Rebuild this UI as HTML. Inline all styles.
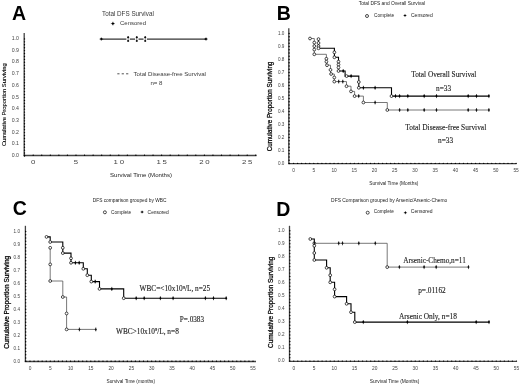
<!DOCTYPE html>
<html><head><meta charset="utf-8"><style>
html,body{margin:0;padding:0;background:#fff;width:520px;height:385px;overflow:hidden}
svg{display:block;filter:blur(0.4px)}
</style></head><body>
<svg width="520" height="385" viewBox="0 0 520 385">
<rect width="520" height="385" fill="#fff"/>
<line x1="24.20" y1="33.00" x2="24.20" y2="156.00" stroke="#444" stroke-width="1.3" />
<line x1="23.60" y1="155.50" x2="256.50" y2="155.50" stroke="#444" stroke-width="1.3" />
<path d="M23.80 156.00a0.7 0.7 0 1 0 1.4 0a0.7 0.7 0 1 0 -1.4 0M23.80 153.07a0.7 0.7 0 1 0 1.4 0a0.7 0.7 0 1 0 -1.4 0M23.80 150.15a0.7 0.7 0 1 0 1.4 0a0.7 0.7 0 1 0 -1.4 0M23.80 147.22a0.7 0.7 0 1 0 1.4 0a0.7 0.7 0 1 0 -1.4 0M23.80 144.29a0.7 0.7 0 1 0 1.4 0a0.7 0.7 0 1 0 -1.4 0M23.80 141.36a0.7 0.7 0 1 0 1.4 0a0.7 0.7 0 1 0 -1.4 0M23.80 138.44a0.7 0.7 0 1 0 1.4 0a0.7 0.7 0 1 0 -1.4 0M23.80 135.51a0.7 0.7 0 1 0 1.4 0a0.7 0.7 0 1 0 -1.4 0M23.80 132.58a0.7 0.7 0 1 0 1.4 0a0.7 0.7 0 1 0 -1.4 0M23.80 129.65a0.7 0.7 0 1 0 1.4 0a0.7 0.7 0 1 0 -1.4 0M23.80 126.73a0.7 0.7 0 1 0 1.4 0a0.7 0.7 0 1 0 -1.4 0M23.80 123.80a0.7 0.7 0 1 0 1.4 0a0.7 0.7 0 1 0 -1.4 0M23.80 120.87a0.7 0.7 0 1 0 1.4 0a0.7 0.7 0 1 0 -1.4 0M23.80 117.94a0.7 0.7 0 1 0 1.4 0a0.7 0.7 0 1 0 -1.4 0M23.80 115.02a0.7 0.7 0 1 0 1.4 0a0.7 0.7 0 1 0 -1.4 0M23.80 112.09a0.7 0.7 0 1 0 1.4 0a0.7 0.7 0 1 0 -1.4 0M23.80 109.16a0.7 0.7 0 1 0 1.4 0a0.7 0.7 0 1 0 -1.4 0M23.80 106.23a0.7 0.7 0 1 0 1.4 0a0.7 0.7 0 1 0 -1.4 0M23.80 103.30a0.7 0.7 0 1 0 1.4 0a0.7 0.7 0 1 0 -1.4 0M23.80 100.38a0.7 0.7 0 1 0 1.4 0a0.7 0.7 0 1 0 -1.4 0M23.80 97.45a0.7 0.7 0 1 0 1.4 0a0.7 0.7 0 1 0 -1.4 0M23.80 94.52a0.7 0.7 0 1 0 1.4 0a0.7 0.7 0 1 0 -1.4 0M23.80 91.59a0.7 0.7 0 1 0 1.4 0a0.7 0.7 0 1 0 -1.4 0M23.80 88.67a0.7 0.7 0 1 0 1.4 0a0.7 0.7 0 1 0 -1.4 0M23.80 85.74a0.7 0.7 0 1 0 1.4 0a0.7 0.7 0 1 0 -1.4 0M23.80 82.81a0.7 0.7 0 1 0 1.4 0a0.7 0.7 0 1 0 -1.4 0M23.80 79.88a0.7 0.7 0 1 0 1.4 0a0.7 0.7 0 1 0 -1.4 0M23.80 76.96a0.7 0.7 0 1 0 1.4 0a0.7 0.7 0 1 0 -1.4 0M23.80 74.03a0.7 0.7 0 1 0 1.4 0a0.7 0.7 0 1 0 -1.4 0M23.80 71.10a0.7 0.7 0 1 0 1.4 0a0.7 0.7 0 1 0 -1.4 0M23.80 68.17a0.7 0.7 0 1 0 1.4 0a0.7 0.7 0 1 0 -1.4 0M23.80 65.25a0.7 0.7 0 1 0 1.4 0a0.7 0.7 0 1 0 -1.4 0M23.80 62.32a0.7 0.7 0 1 0 1.4 0a0.7 0.7 0 1 0 -1.4 0M23.80 59.39a0.7 0.7 0 1 0 1.4 0a0.7 0.7 0 1 0 -1.4 0M23.80 56.46a0.7 0.7 0 1 0 1.4 0a0.7 0.7 0 1 0 -1.4 0M23.80 53.54a0.7 0.7 0 1 0 1.4 0a0.7 0.7 0 1 0 -1.4 0M23.80 50.61a0.7 0.7 0 1 0 1.4 0a0.7 0.7 0 1 0 -1.4 0M23.80 47.68a0.7 0.7 0 1 0 1.4 0a0.7 0.7 0 1 0 -1.4 0M23.80 44.75a0.7 0.7 0 1 0 1.4 0a0.7 0.7 0 1 0 -1.4 0M23.80 41.83a0.7 0.7 0 1 0 1.4 0a0.7 0.7 0 1 0 -1.4 0M23.80 38.90a0.7 0.7 0 1 0 1.4 0a0.7 0.7 0 1 0 -1.4 0M23.94 155.30a0.7 0.7 0 1 0 1.4 0a0.7 0.7 0 1 0 -1.4 0M32.50 155.30a0.7 0.7 0 1 0 1.4 0a0.7 0.7 0 1 0 -1.4 0M41.06 155.30a0.7 0.7 0 1 0 1.4 0a0.7 0.7 0 1 0 -1.4 0M49.62 155.30a0.7 0.7 0 1 0 1.4 0a0.7 0.7 0 1 0 -1.4 0M58.18 155.30a0.7 0.7 0 1 0 1.4 0a0.7 0.7 0 1 0 -1.4 0M66.74 155.30a0.7 0.7 0 1 0 1.4 0a0.7 0.7 0 1 0 -1.4 0M75.30 155.30a0.7 0.7 0 1 0 1.4 0a0.7 0.7 0 1 0 -1.4 0M83.86 155.30a0.7 0.7 0 1 0 1.4 0a0.7 0.7 0 1 0 -1.4 0M92.42 155.30a0.7 0.7 0 1 0 1.4 0a0.7 0.7 0 1 0 -1.4 0M100.98 155.30a0.7 0.7 0 1 0 1.4 0a0.7 0.7 0 1 0 -1.4 0M109.54 155.30a0.7 0.7 0 1 0 1.4 0a0.7 0.7 0 1 0 -1.4 0M118.10 155.30a0.7 0.7 0 1 0 1.4 0a0.7 0.7 0 1 0 -1.4 0M126.66 155.30a0.7 0.7 0 1 0 1.4 0a0.7 0.7 0 1 0 -1.4 0M135.22 155.30a0.7 0.7 0 1 0 1.4 0a0.7 0.7 0 1 0 -1.4 0M143.78 155.30a0.7 0.7 0 1 0 1.4 0a0.7 0.7 0 1 0 -1.4 0M152.34 155.30a0.7 0.7 0 1 0 1.4 0a0.7 0.7 0 1 0 -1.4 0M160.90 155.30a0.7 0.7 0 1 0 1.4 0a0.7 0.7 0 1 0 -1.4 0M169.46 155.30a0.7 0.7 0 1 0 1.4 0a0.7 0.7 0 1 0 -1.4 0M178.02 155.30a0.7 0.7 0 1 0 1.4 0a0.7 0.7 0 1 0 -1.4 0M186.58 155.30a0.7 0.7 0 1 0 1.4 0a0.7 0.7 0 1 0 -1.4 0M195.14 155.30a0.7 0.7 0 1 0 1.4 0a0.7 0.7 0 1 0 -1.4 0M203.70 155.30a0.7 0.7 0 1 0 1.4 0a0.7 0.7 0 1 0 -1.4 0M212.26 155.30a0.7 0.7 0 1 0 1.4 0a0.7 0.7 0 1 0 -1.4 0M220.82 155.30a0.7 0.7 0 1 0 1.4 0a0.7 0.7 0 1 0 -1.4 0M229.38 155.30a0.7 0.7 0 1 0 1.4 0a0.7 0.7 0 1 0 -1.4 0M237.94 155.30a0.7 0.7 0 1 0 1.4 0a0.7 0.7 0 1 0 -1.4 0M246.50 155.30a0.7 0.7 0 1 0 1.4 0a0.7 0.7 0 1 0 -1.4 0M255.06 155.30a0.7 0.7 0 1 0 1.4 0a0.7 0.7 0 1 0 -1.4 0" fill="#000"/>
<text x="18.90" y="157.17" font-size="5.2" font-family='"Liberation Sans", sans-serif' text-anchor="end" fill="#444" >0.0</text>
<text x="18.90" y="145.46" font-size="5.2" font-family='"Liberation Sans", sans-serif' text-anchor="end" fill="#444" >0.1</text>
<text x="18.90" y="133.75" font-size="5.2" font-family='"Liberation Sans", sans-serif' text-anchor="end" fill="#444" >0.2</text>
<text x="18.90" y="122.04" font-size="5.2" font-family='"Liberation Sans", sans-serif' text-anchor="end" fill="#444" >0.3</text>
<text x="18.90" y="110.33" font-size="5.2" font-family='"Liberation Sans", sans-serif' text-anchor="end" fill="#444" >0.4</text>
<text x="18.90" y="98.62" font-size="5.2" font-family='"Liberation Sans", sans-serif' text-anchor="end" fill="#444" >0.5</text>
<text x="18.90" y="86.91" font-size="5.2" font-family='"Liberation Sans", sans-serif' text-anchor="end" fill="#444" >0.6</text>
<text x="18.90" y="75.20" font-size="5.2" font-family='"Liberation Sans", sans-serif' text-anchor="end" fill="#444" >0.7</text>
<text x="18.90" y="63.49" font-size="5.2" font-family='"Liberation Sans", sans-serif' text-anchor="end" fill="#444" >0.8</text>
<text x="18.90" y="51.78" font-size="5.2" font-family='"Liberation Sans", sans-serif' text-anchor="end" fill="#444" >0.9</text>
<text x="18.90" y="40.07" font-size="5.2" font-family='"Liberation Sans", sans-serif' text-anchor="end" fill="#444" >1.0</text>
<text transform="translate(33.20,163.90) scale(1.4,1)" x="0.60" y="0" font-size="5.6" font-family='"Liberation Sans", sans-serif' text-anchor="middle" fill="#444" letter-spacing="1.2">0</text>
<text transform="translate(76.00,163.90) scale(1.4,1)" x="0.60" y="0" font-size="5.6" font-family='"Liberation Sans", sans-serif' text-anchor="middle" fill="#444" letter-spacing="1.2">5</text>
<text transform="translate(118.80,163.90) scale(1.4,1)" x="0.60" y="0" font-size="5.6" font-family='"Liberation Sans", sans-serif' text-anchor="middle" fill="#444" letter-spacing="1.2">10</text>
<text transform="translate(161.60,163.90) scale(1.4,1)" x="0.60" y="0" font-size="5.6" font-family='"Liberation Sans", sans-serif' text-anchor="middle" fill="#444" letter-spacing="1.2">15</text>
<text transform="translate(204.40,163.90) scale(1.4,1)" x="0.60" y="0" font-size="5.6" font-family='"Liberation Sans", sans-serif' text-anchor="middle" fill="#444" letter-spacing="1.2">20</text>
<text transform="translate(247.20,163.90) scale(1.4,1)" x="0.60" y="0" font-size="5.6" font-family='"Liberation Sans", sans-serif' text-anchor="middle" fill="#444" letter-spacing="1.2">25</text>
<line x1="288.80" y1="28.30" x2="288.80" y2="164.10" stroke="#444" stroke-width="1.3" />
<line x1="288.20" y1="163.60" x2="516.50" y2="163.60" stroke="#444" stroke-width="1.3" />
<path d="M288.40 163.50a0.7 0.7 0 1 0 1.4 0a0.7 0.7 0 1 0 -1.4 0M288.40 160.25a0.7 0.7 0 1 0 1.4 0a0.7 0.7 0 1 0 -1.4 0M288.40 157.00a0.7 0.7 0 1 0 1.4 0a0.7 0.7 0 1 0 -1.4 0M288.40 153.75a0.7 0.7 0 1 0 1.4 0a0.7 0.7 0 1 0 -1.4 0M288.40 150.50a0.7 0.7 0 1 0 1.4 0a0.7 0.7 0 1 0 -1.4 0M288.40 147.25a0.7 0.7 0 1 0 1.4 0a0.7 0.7 0 1 0 -1.4 0M288.40 144.00a0.7 0.7 0 1 0 1.4 0a0.7 0.7 0 1 0 -1.4 0M288.40 140.75a0.7 0.7 0 1 0 1.4 0a0.7 0.7 0 1 0 -1.4 0M288.40 137.50a0.7 0.7 0 1 0 1.4 0a0.7 0.7 0 1 0 -1.4 0M288.40 134.25a0.7 0.7 0 1 0 1.4 0a0.7 0.7 0 1 0 -1.4 0M288.40 131.00a0.7 0.7 0 1 0 1.4 0a0.7 0.7 0 1 0 -1.4 0M288.40 127.75a0.7 0.7 0 1 0 1.4 0a0.7 0.7 0 1 0 -1.4 0M288.40 124.50a0.7 0.7 0 1 0 1.4 0a0.7 0.7 0 1 0 -1.4 0M288.40 121.25a0.7 0.7 0 1 0 1.4 0a0.7 0.7 0 1 0 -1.4 0M288.40 118.00a0.7 0.7 0 1 0 1.4 0a0.7 0.7 0 1 0 -1.4 0M288.40 114.75a0.7 0.7 0 1 0 1.4 0a0.7 0.7 0 1 0 -1.4 0M288.40 111.50a0.7 0.7 0 1 0 1.4 0a0.7 0.7 0 1 0 -1.4 0M288.40 108.25a0.7 0.7 0 1 0 1.4 0a0.7 0.7 0 1 0 -1.4 0M288.40 105.00a0.7 0.7 0 1 0 1.4 0a0.7 0.7 0 1 0 -1.4 0M288.40 101.75a0.7 0.7 0 1 0 1.4 0a0.7 0.7 0 1 0 -1.4 0M288.40 98.50a0.7 0.7 0 1 0 1.4 0a0.7 0.7 0 1 0 -1.4 0M288.40 95.25a0.7 0.7 0 1 0 1.4 0a0.7 0.7 0 1 0 -1.4 0M288.40 92.00a0.7 0.7 0 1 0 1.4 0a0.7 0.7 0 1 0 -1.4 0M288.40 88.75a0.7 0.7 0 1 0 1.4 0a0.7 0.7 0 1 0 -1.4 0M288.40 85.50a0.7 0.7 0 1 0 1.4 0a0.7 0.7 0 1 0 -1.4 0M288.40 82.25a0.7 0.7 0 1 0 1.4 0a0.7 0.7 0 1 0 -1.4 0M288.40 79.00a0.7 0.7 0 1 0 1.4 0a0.7 0.7 0 1 0 -1.4 0M288.40 75.75a0.7 0.7 0 1 0 1.4 0a0.7 0.7 0 1 0 -1.4 0M288.40 72.50a0.7 0.7 0 1 0 1.4 0a0.7 0.7 0 1 0 -1.4 0M288.40 69.25a0.7 0.7 0 1 0 1.4 0a0.7 0.7 0 1 0 -1.4 0M288.40 66.00a0.7 0.7 0 1 0 1.4 0a0.7 0.7 0 1 0 -1.4 0M288.40 62.75a0.7 0.7 0 1 0 1.4 0a0.7 0.7 0 1 0 -1.4 0M288.40 59.50a0.7 0.7 0 1 0 1.4 0a0.7 0.7 0 1 0 -1.4 0M288.40 56.25a0.7 0.7 0 1 0 1.4 0a0.7 0.7 0 1 0 -1.4 0M288.40 53.00a0.7 0.7 0 1 0 1.4 0a0.7 0.7 0 1 0 -1.4 0M288.40 49.75a0.7 0.7 0 1 0 1.4 0a0.7 0.7 0 1 0 -1.4 0M288.40 46.50a0.7 0.7 0 1 0 1.4 0a0.7 0.7 0 1 0 -1.4 0M288.40 43.25a0.7 0.7 0 1 0 1.4 0a0.7 0.7 0 1 0 -1.4 0M288.40 40.00a0.7 0.7 0 1 0 1.4 0a0.7 0.7 0 1 0 -1.4 0M288.40 36.75a0.7 0.7 0 1 0 1.4 0a0.7 0.7 0 1 0 -1.4 0M288.40 33.50a0.7 0.7 0 1 0 1.4 0a0.7 0.7 0 1 0 -1.4 0M288.86 163.40a0.7 0.7 0 1 0 1.4 0a0.7 0.7 0 1 0 -1.4 0M292.90 163.40a0.7 0.7 0 1 0 1.4 0a0.7 0.7 0 1 0 -1.4 0M296.95 163.40a0.7 0.7 0 1 0 1.4 0a0.7 0.7 0 1 0 -1.4 0M300.99 163.40a0.7 0.7 0 1 0 1.4 0a0.7 0.7 0 1 0 -1.4 0M305.04 163.40a0.7 0.7 0 1 0 1.4 0a0.7 0.7 0 1 0 -1.4 0M309.08 163.40a0.7 0.7 0 1 0 1.4 0a0.7 0.7 0 1 0 -1.4 0M313.13 163.40a0.7 0.7 0 1 0 1.4 0a0.7 0.7 0 1 0 -1.4 0M317.17 163.40a0.7 0.7 0 1 0 1.4 0a0.7 0.7 0 1 0 -1.4 0M321.22 163.40a0.7 0.7 0 1 0 1.4 0a0.7 0.7 0 1 0 -1.4 0M325.26 163.40a0.7 0.7 0 1 0 1.4 0a0.7 0.7 0 1 0 -1.4 0M329.31 163.40a0.7 0.7 0 1 0 1.4 0a0.7 0.7 0 1 0 -1.4 0M333.35 163.40a0.7 0.7 0 1 0 1.4 0a0.7 0.7 0 1 0 -1.4 0M337.40 163.40a0.7 0.7 0 1 0 1.4 0a0.7 0.7 0 1 0 -1.4 0M341.44 163.40a0.7 0.7 0 1 0 1.4 0a0.7 0.7 0 1 0 -1.4 0M345.49 163.40a0.7 0.7 0 1 0 1.4 0a0.7 0.7 0 1 0 -1.4 0M349.53 163.40a0.7 0.7 0 1 0 1.4 0a0.7 0.7 0 1 0 -1.4 0M353.58 163.40a0.7 0.7 0 1 0 1.4 0a0.7 0.7 0 1 0 -1.4 0M357.62 163.40a0.7 0.7 0 1 0 1.4 0a0.7 0.7 0 1 0 -1.4 0M361.67 163.40a0.7 0.7 0 1 0 1.4 0a0.7 0.7 0 1 0 -1.4 0M365.71 163.40a0.7 0.7 0 1 0 1.4 0a0.7 0.7 0 1 0 -1.4 0M369.76 163.40a0.7 0.7 0 1 0 1.4 0a0.7 0.7 0 1 0 -1.4 0M373.80 163.40a0.7 0.7 0 1 0 1.4 0a0.7 0.7 0 1 0 -1.4 0M377.85 163.40a0.7 0.7 0 1 0 1.4 0a0.7 0.7 0 1 0 -1.4 0M381.89 163.40a0.7 0.7 0 1 0 1.4 0a0.7 0.7 0 1 0 -1.4 0M385.94 163.40a0.7 0.7 0 1 0 1.4 0a0.7 0.7 0 1 0 -1.4 0M389.98 163.40a0.7 0.7 0 1 0 1.4 0a0.7 0.7 0 1 0 -1.4 0M394.03 163.40a0.7 0.7 0 1 0 1.4 0a0.7 0.7 0 1 0 -1.4 0M398.07 163.40a0.7 0.7 0 1 0 1.4 0a0.7 0.7 0 1 0 -1.4 0M402.12 163.40a0.7 0.7 0 1 0 1.4 0a0.7 0.7 0 1 0 -1.4 0M406.16 163.40a0.7 0.7 0 1 0 1.4 0a0.7 0.7 0 1 0 -1.4 0M410.21 163.40a0.7 0.7 0 1 0 1.4 0a0.7 0.7 0 1 0 -1.4 0M414.25 163.40a0.7 0.7 0 1 0 1.4 0a0.7 0.7 0 1 0 -1.4 0M418.30 163.40a0.7 0.7 0 1 0 1.4 0a0.7 0.7 0 1 0 -1.4 0M422.34 163.40a0.7 0.7 0 1 0 1.4 0a0.7 0.7 0 1 0 -1.4 0M426.39 163.40a0.7 0.7 0 1 0 1.4 0a0.7 0.7 0 1 0 -1.4 0M430.43 163.40a0.7 0.7 0 1 0 1.4 0a0.7 0.7 0 1 0 -1.4 0M434.48 163.40a0.7 0.7 0 1 0 1.4 0a0.7 0.7 0 1 0 -1.4 0M438.52 163.40a0.7 0.7 0 1 0 1.4 0a0.7 0.7 0 1 0 -1.4 0M442.56 163.40a0.7 0.7 0 1 0 1.4 0a0.7 0.7 0 1 0 -1.4 0M446.61 163.40a0.7 0.7 0 1 0 1.4 0a0.7 0.7 0 1 0 -1.4 0M450.66 163.40a0.7 0.7 0 1 0 1.4 0a0.7 0.7 0 1 0 -1.4 0M454.70 163.40a0.7 0.7 0 1 0 1.4 0a0.7 0.7 0 1 0 -1.4 0M458.75 163.40a0.7 0.7 0 1 0 1.4 0a0.7 0.7 0 1 0 -1.4 0M462.79 163.40a0.7 0.7 0 1 0 1.4 0a0.7 0.7 0 1 0 -1.4 0M466.84 163.40a0.7 0.7 0 1 0 1.4 0a0.7 0.7 0 1 0 -1.4 0M470.88 163.40a0.7 0.7 0 1 0 1.4 0a0.7 0.7 0 1 0 -1.4 0M474.93 163.40a0.7 0.7 0 1 0 1.4 0a0.7 0.7 0 1 0 -1.4 0M478.97 163.40a0.7 0.7 0 1 0 1.4 0a0.7 0.7 0 1 0 -1.4 0M483.02 163.40a0.7 0.7 0 1 0 1.4 0a0.7 0.7 0 1 0 -1.4 0M487.06 163.40a0.7 0.7 0 1 0 1.4 0a0.7 0.7 0 1 0 -1.4 0M491.11 163.40a0.7 0.7 0 1 0 1.4 0a0.7 0.7 0 1 0 -1.4 0M495.15 163.40a0.7 0.7 0 1 0 1.4 0a0.7 0.7 0 1 0 -1.4 0M499.19 163.40a0.7 0.7 0 1 0 1.4 0a0.7 0.7 0 1 0 -1.4 0M503.24 163.40a0.7 0.7 0 1 0 1.4 0a0.7 0.7 0 1 0 -1.4 0M507.29 163.40a0.7 0.7 0 1 0 1.4 0a0.7 0.7 0 1 0 -1.4 0M511.33 163.40a0.7 0.7 0 1 0 1.4 0a0.7 0.7 0 1 0 -1.4 0M515.38 163.40a0.7 0.7 0 1 0 1.4 0a0.7 0.7 0 1 0 -1.4 0" fill="#000"/>
<text x="284.30" y="164.76" font-size="4.6" font-family='"Liberation Sans", sans-serif' text-anchor="end" fill="#444" >0.0</text>
<text x="284.30" y="151.80" font-size="4.6" font-family='"Liberation Sans", sans-serif' text-anchor="end" fill="#444" >0.1</text>
<text x="284.30" y="138.84" font-size="4.6" font-family='"Liberation Sans", sans-serif' text-anchor="end" fill="#444" >0.2</text>
<text x="284.30" y="125.88" font-size="4.6" font-family='"Liberation Sans", sans-serif' text-anchor="end" fill="#444" >0.3</text>
<text x="284.30" y="112.92" font-size="4.6" font-family='"Liberation Sans", sans-serif' text-anchor="end" fill="#444" >0.4</text>
<text x="284.30" y="99.96" font-size="4.6" font-family='"Liberation Sans", sans-serif' text-anchor="end" fill="#444" >0.5</text>
<text x="284.30" y="87.00" font-size="4.6" font-family='"Liberation Sans", sans-serif' text-anchor="end" fill="#444" >0.6</text>
<text x="284.30" y="74.04" font-size="4.6" font-family='"Liberation Sans", sans-serif' text-anchor="end" fill="#444" >0.7</text>
<text x="284.30" y="61.08" font-size="4.6" font-family='"Liberation Sans", sans-serif' text-anchor="end" fill="#444" >0.8</text>
<text x="284.30" y="48.12" font-size="4.6" font-family='"Liberation Sans", sans-serif' text-anchor="end" fill="#444" >0.9</text>
<text x="284.30" y="35.16" font-size="4.6" font-family='"Liberation Sans", sans-serif' text-anchor="end" fill="#444" >1.0</text>
<text transform="translate(293.60,172.20) scale(1.0,1)" x="0.00" y="0" font-size="4.8" font-family='"Liberation Sans", sans-serif' text-anchor="middle" fill="#444" letter-spacing="0.0">0</text>
<text transform="translate(313.83,172.20) scale(1.0,1)" x="0.00" y="0" font-size="4.8" font-family='"Liberation Sans", sans-serif' text-anchor="middle" fill="#444" letter-spacing="0.0">5</text>
<text transform="translate(334.05,172.20) scale(1.0,1)" x="0.00" y="0" font-size="4.8" font-family='"Liberation Sans", sans-serif' text-anchor="middle" fill="#444" letter-spacing="0.0">10</text>
<text transform="translate(354.28,172.20) scale(1.0,1)" x="0.00" y="0" font-size="4.8" font-family='"Liberation Sans", sans-serif' text-anchor="middle" fill="#444" letter-spacing="0.0">15</text>
<text transform="translate(374.50,172.20) scale(1.0,1)" x="0.00" y="0" font-size="4.8" font-family='"Liberation Sans", sans-serif' text-anchor="middle" fill="#444" letter-spacing="0.0">20</text>
<text transform="translate(394.73,172.20) scale(1.0,1)" x="0.00" y="0" font-size="4.8" font-family='"Liberation Sans", sans-serif' text-anchor="middle" fill="#444" letter-spacing="0.0">25</text>
<text transform="translate(414.95,172.20) scale(1.0,1)" x="0.00" y="0" font-size="4.8" font-family='"Liberation Sans", sans-serif' text-anchor="middle" fill="#444" letter-spacing="0.0">30</text>
<text transform="translate(435.18,172.20) scale(1.0,1)" x="0.00" y="0" font-size="4.8" font-family='"Liberation Sans", sans-serif' text-anchor="middle" fill="#444" letter-spacing="0.0">35</text>
<text transform="translate(455.40,172.20) scale(1.0,1)" x="0.00" y="0" font-size="4.8" font-family='"Liberation Sans", sans-serif' text-anchor="middle" fill="#444" letter-spacing="0.0">40</text>
<text transform="translate(475.62,172.20) scale(1.0,1)" x="0.00" y="0" font-size="4.8" font-family='"Liberation Sans", sans-serif' text-anchor="middle" fill="#444" letter-spacing="0.0">45</text>
<text transform="translate(495.85,172.20) scale(1.0,1)" x="0.00" y="0" font-size="4.8" font-family='"Liberation Sans", sans-serif' text-anchor="middle" fill="#444" letter-spacing="0.0">50</text>
<text transform="translate(516.08,172.20) scale(1.0,1)" x="0.00" y="0" font-size="4.8" font-family='"Liberation Sans", sans-serif' text-anchor="middle" fill="#444" letter-spacing="0.0">55</text>
<line x1="25.40" y1="225.80" x2="25.40" y2="362.00" stroke="#444" stroke-width="1.3" />
<line x1="24.80" y1="361.50" x2="256.00" y2="361.50" stroke="#444" stroke-width="1.3" />
<path d="M25.00 361.20a0.7 0.7 0 1 0 1.4 0a0.7 0.7 0 1 0 -1.4 0M25.00 357.96a0.7 0.7 0 1 0 1.4 0a0.7 0.7 0 1 0 -1.4 0M25.00 354.71a0.7 0.7 0 1 0 1.4 0a0.7 0.7 0 1 0 -1.4 0M25.00 351.47a0.7 0.7 0 1 0 1.4 0a0.7 0.7 0 1 0 -1.4 0M25.00 348.23a0.7 0.7 0 1 0 1.4 0a0.7 0.7 0 1 0 -1.4 0M25.00 344.99a0.7 0.7 0 1 0 1.4 0a0.7 0.7 0 1 0 -1.4 0M25.00 341.75a0.7 0.7 0 1 0 1.4 0a0.7 0.7 0 1 0 -1.4 0M25.00 338.50a0.7 0.7 0 1 0 1.4 0a0.7 0.7 0 1 0 -1.4 0M25.00 335.26a0.7 0.7 0 1 0 1.4 0a0.7 0.7 0 1 0 -1.4 0M25.00 332.02a0.7 0.7 0 1 0 1.4 0a0.7 0.7 0 1 0 -1.4 0M25.00 328.77a0.7 0.7 0 1 0 1.4 0a0.7 0.7 0 1 0 -1.4 0M25.00 325.53a0.7 0.7 0 1 0 1.4 0a0.7 0.7 0 1 0 -1.4 0M25.00 322.29a0.7 0.7 0 1 0 1.4 0a0.7 0.7 0 1 0 -1.4 0M25.00 319.05a0.7 0.7 0 1 0 1.4 0a0.7 0.7 0 1 0 -1.4 0M25.00 315.81a0.7 0.7 0 1 0 1.4 0a0.7 0.7 0 1 0 -1.4 0M25.00 312.56a0.7 0.7 0 1 0 1.4 0a0.7 0.7 0 1 0 -1.4 0M25.00 309.32a0.7 0.7 0 1 0 1.4 0a0.7 0.7 0 1 0 -1.4 0M25.00 306.08a0.7 0.7 0 1 0 1.4 0a0.7 0.7 0 1 0 -1.4 0M25.00 302.83a0.7 0.7 0 1 0 1.4 0a0.7 0.7 0 1 0 -1.4 0M25.00 299.59a0.7 0.7 0 1 0 1.4 0a0.7 0.7 0 1 0 -1.4 0M25.00 296.35a0.7 0.7 0 1 0 1.4 0a0.7 0.7 0 1 0 -1.4 0M25.00 293.11a0.7 0.7 0 1 0 1.4 0a0.7 0.7 0 1 0 -1.4 0M25.00 289.87a0.7 0.7 0 1 0 1.4 0a0.7 0.7 0 1 0 -1.4 0M25.00 286.62a0.7 0.7 0 1 0 1.4 0a0.7 0.7 0 1 0 -1.4 0M25.00 283.38a0.7 0.7 0 1 0 1.4 0a0.7 0.7 0 1 0 -1.4 0M25.00 280.14a0.7 0.7 0 1 0 1.4 0a0.7 0.7 0 1 0 -1.4 0M25.00 276.89a0.7 0.7 0 1 0 1.4 0a0.7 0.7 0 1 0 -1.4 0M25.00 273.65a0.7 0.7 0 1 0 1.4 0a0.7 0.7 0 1 0 -1.4 0M25.00 270.41a0.7 0.7 0 1 0 1.4 0a0.7 0.7 0 1 0 -1.4 0M25.00 267.17a0.7 0.7 0 1 0 1.4 0a0.7 0.7 0 1 0 -1.4 0M25.00 263.92a0.7 0.7 0 1 0 1.4 0a0.7 0.7 0 1 0 -1.4 0M25.00 260.68a0.7 0.7 0 1 0 1.4 0a0.7 0.7 0 1 0 -1.4 0M25.00 257.44a0.7 0.7 0 1 0 1.4 0a0.7 0.7 0 1 0 -1.4 0M25.00 254.20a0.7 0.7 0 1 0 1.4 0a0.7 0.7 0 1 0 -1.4 0M25.00 250.95a0.7 0.7 0 1 0 1.4 0a0.7 0.7 0 1 0 -1.4 0M25.00 247.71a0.7 0.7 0 1 0 1.4 0a0.7 0.7 0 1 0 -1.4 0M25.00 244.47a0.7 0.7 0 1 0 1.4 0a0.7 0.7 0 1 0 -1.4 0M25.00 241.23a0.7 0.7 0 1 0 1.4 0a0.7 0.7 0 1 0 -1.4 0M25.00 237.98a0.7 0.7 0 1 0 1.4 0a0.7 0.7 0 1 0 -1.4 0M25.00 234.74a0.7 0.7 0 1 0 1.4 0a0.7 0.7 0 1 0 -1.4 0M25.00 231.50a0.7 0.7 0 1 0 1.4 0a0.7 0.7 0 1 0 -1.4 0M25.25 361.30a0.7 0.7 0 1 0 1.4 0a0.7 0.7 0 1 0 -1.4 0M29.30 361.30a0.7 0.7 0 1 0 1.4 0a0.7 0.7 0 1 0 -1.4 0M33.35 361.30a0.7 0.7 0 1 0 1.4 0a0.7 0.7 0 1 0 -1.4 0M37.41 361.30a0.7 0.7 0 1 0 1.4 0a0.7 0.7 0 1 0 -1.4 0M41.46 361.30a0.7 0.7 0 1 0 1.4 0a0.7 0.7 0 1 0 -1.4 0M45.52 361.30a0.7 0.7 0 1 0 1.4 0a0.7 0.7 0 1 0 -1.4 0M49.57 361.30a0.7 0.7 0 1 0 1.4 0a0.7 0.7 0 1 0 -1.4 0M53.63 361.30a0.7 0.7 0 1 0 1.4 0a0.7 0.7 0 1 0 -1.4 0M57.68 361.30a0.7 0.7 0 1 0 1.4 0a0.7 0.7 0 1 0 -1.4 0M61.74 361.30a0.7 0.7 0 1 0 1.4 0a0.7 0.7 0 1 0 -1.4 0M65.80 361.30a0.7 0.7 0 1 0 1.4 0a0.7 0.7 0 1 0 -1.4 0M69.85 361.30a0.7 0.7 0 1 0 1.4 0a0.7 0.7 0 1 0 -1.4 0M73.90 361.30a0.7 0.7 0 1 0 1.4 0a0.7 0.7 0 1 0 -1.4 0M77.96 361.30a0.7 0.7 0 1 0 1.4 0a0.7 0.7 0 1 0 -1.4 0M82.02 361.30a0.7 0.7 0 1 0 1.4 0a0.7 0.7 0 1 0 -1.4 0M86.07 361.30a0.7 0.7 0 1 0 1.4 0a0.7 0.7 0 1 0 -1.4 0M90.12 361.30a0.7 0.7 0 1 0 1.4 0a0.7 0.7 0 1 0 -1.4 0M94.18 361.30a0.7 0.7 0 1 0 1.4 0a0.7 0.7 0 1 0 -1.4 0M98.23 361.30a0.7 0.7 0 1 0 1.4 0a0.7 0.7 0 1 0 -1.4 0M102.29 361.30a0.7 0.7 0 1 0 1.4 0a0.7 0.7 0 1 0 -1.4 0M106.34 361.30a0.7 0.7 0 1 0 1.4 0a0.7 0.7 0 1 0 -1.4 0M110.40 361.30a0.7 0.7 0 1 0 1.4 0a0.7 0.7 0 1 0 -1.4 0M114.45 361.30a0.7 0.7 0 1 0 1.4 0a0.7 0.7 0 1 0 -1.4 0M118.51 361.30a0.7 0.7 0 1 0 1.4 0a0.7 0.7 0 1 0 -1.4 0M122.56 361.30a0.7 0.7 0 1 0 1.4 0a0.7 0.7 0 1 0 -1.4 0M126.62 361.30a0.7 0.7 0 1 0 1.4 0a0.7 0.7 0 1 0 -1.4 0M130.68 361.30a0.7 0.7 0 1 0 1.4 0a0.7 0.7 0 1 0 -1.4 0M134.73 361.30a0.7 0.7 0 1 0 1.4 0a0.7 0.7 0 1 0 -1.4 0M138.78 361.30a0.7 0.7 0 1 0 1.4 0a0.7 0.7 0 1 0 -1.4 0M142.84 361.30a0.7 0.7 0 1 0 1.4 0a0.7 0.7 0 1 0 -1.4 0M146.90 361.30a0.7 0.7 0 1 0 1.4 0a0.7 0.7 0 1 0 -1.4 0M150.95 361.30a0.7 0.7 0 1 0 1.4 0a0.7 0.7 0 1 0 -1.4 0M155.00 361.30a0.7 0.7 0 1 0 1.4 0a0.7 0.7 0 1 0 -1.4 0M159.06 361.30a0.7 0.7 0 1 0 1.4 0a0.7 0.7 0 1 0 -1.4 0M163.12 361.30a0.7 0.7 0 1 0 1.4 0a0.7 0.7 0 1 0 -1.4 0M167.17 361.30a0.7 0.7 0 1 0 1.4 0a0.7 0.7 0 1 0 -1.4 0M171.22 361.30a0.7 0.7 0 1 0 1.4 0a0.7 0.7 0 1 0 -1.4 0M175.28 361.30a0.7 0.7 0 1 0 1.4 0a0.7 0.7 0 1 0 -1.4 0M179.34 361.30a0.7 0.7 0 1 0 1.4 0a0.7 0.7 0 1 0 -1.4 0M183.39 361.30a0.7 0.7 0 1 0 1.4 0a0.7 0.7 0 1 0 -1.4 0M187.44 361.30a0.7 0.7 0 1 0 1.4 0a0.7 0.7 0 1 0 -1.4 0M191.50 361.30a0.7 0.7 0 1 0 1.4 0a0.7 0.7 0 1 0 -1.4 0M195.56 361.30a0.7 0.7 0 1 0 1.4 0a0.7 0.7 0 1 0 -1.4 0M199.61 361.30a0.7 0.7 0 1 0 1.4 0a0.7 0.7 0 1 0 -1.4 0M203.66 361.30a0.7 0.7 0 1 0 1.4 0a0.7 0.7 0 1 0 -1.4 0M207.72 361.30a0.7 0.7 0 1 0 1.4 0a0.7 0.7 0 1 0 -1.4 0M211.78 361.30a0.7 0.7 0 1 0 1.4 0a0.7 0.7 0 1 0 -1.4 0M215.83 361.30a0.7 0.7 0 1 0 1.4 0a0.7 0.7 0 1 0 -1.4 0M219.88 361.30a0.7 0.7 0 1 0 1.4 0a0.7 0.7 0 1 0 -1.4 0M223.94 361.30a0.7 0.7 0 1 0 1.4 0a0.7 0.7 0 1 0 -1.4 0M228.00 361.30a0.7 0.7 0 1 0 1.4 0a0.7 0.7 0 1 0 -1.4 0M232.05 361.30a0.7 0.7 0 1 0 1.4 0a0.7 0.7 0 1 0 -1.4 0M236.10 361.30a0.7 0.7 0 1 0 1.4 0a0.7 0.7 0 1 0 -1.4 0M240.16 361.30a0.7 0.7 0 1 0 1.4 0a0.7 0.7 0 1 0 -1.4 0M244.22 361.30a0.7 0.7 0 1 0 1.4 0a0.7 0.7 0 1 0 -1.4 0M248.27 361.30a0.7 0.7 0 1 0 1.4 0a0.7 0.7 0 1 0 -1.4 0M252.32 361.30a0.7 0.7 0 1 0 1.4 0a0.7 0.7 0 1 0 -1.4 0" fill="#000"/>
<text x="20.00" y="362.86" font-size="4.6" font-family='"Liberation Sans", sans-serif' text-anchor="end" fill="#444" >0.0</text>
<text x="20.00" y="349.89" font-size="4.6" font-family='"Liberation Sans", sans-serif' text-anchor="end" fill="#444" >0.1</text>
<text x="20.00" y="336.92" font-size="4.6" font-family='"Liberation Sans", sans-serif' text-anchor="end" fill="#444" >0.2</text>
<text x="20.00" y="323.95" font-size="4.6" font-family='"Liberation Sans", sans-serif' text-anchor="end" fill="#444" >0.3</text>
<text x="20.00" y="310.98" font-size="4.6" font-family='"Liberation Sans", sans-serif' text-anchor="end" fill="#444" >0.4</text>
<text x="20.00" y="298.01" font-size="4.6" font-family='"Liberation Sans", sans-serif' text-anchor="end" fill="#444" >0.5</text>
<text x="20.00" y="285.04" font-size="4.6" font-family='"Liberation Sans", sans-serif' text-anchor="end" fill="#444" >0.6</text>
<text x="20.00" y="272.07" font-size="4.6" font-family='"Liberation Sans", sans-serif' text-anchor="end" fill="#444" >0.7</text>
<text x="20.00" y="259.10" font-size="4.6" font-family='"Liberation Sans", sans-serif' text-anchor="end" fill="#444" >0.8</text>
<text x="20.00" y="246.13" font-size="4.6" font-family='"Liberation Sans", sans-serif' text-anchor="end" fill="#444" >0.9</text>
<text x="20.00" y="233.16" font-size="4.6" font-family='"Liberation Sans", sans-serif' text-anchor="end" fill="#444" >1.0</text>
<text transform="translate(30.00,370.00) scale(1.0,1)" x="0.00" y="0" font-size="4.8" font-family='"Liberation Sans", sans-serif' text-anchor="middle" fill="#444" letter-spacing="0.0">0</text>
<text transform="translate(50.27,370.00) scale(1.0,1)" x="0.00" y="0" font-size="4.8" font-family='"Liberation Sans", sans-serif' text-anchor="middle" fill="#444" letter-spacing="0.0">5</text>
<text transform="translate(70.55,370.00) scale(1.0,1)" x="0.00" y="0" font-size="4.8" font-family='"Liberation Sans", sans-serif' text-anchor="middle" fill="#444" letter-spacing="0.0">10</text>
<text transform="translate(90.82,370.00) scale(1.0,1)" x="0.00" y="0" font-size="4.8" font-family='"Liberation Sans", sans-serif' text-anchor="middle" fill="#444" letter-spacing="0.0">15</text>
<text transform="translate(111.10,370.00) scale(1.0,1)" x="0.00" y="0" font-size="4.8" font-family='"Liberation Sans", sans-serif' text-anchor="middle" fill="#444" letter-spacing="0.0">20</text>
<text transform="translate(131.38,370.00) scale(1.0,1)" x="0.00" y="0" font-size="4.8" font-family='"Liberation Sans", sans-serif' text-anchor="middle" fill="#444" letter-spacing="0.0">25</text>
<text transform="translate(151.65,370.00) scale(1.0,1)" x="0.00" y="0" font-size="4.8" font-family='"Liberation Sans", sans-serif' text-anchor="middle" fill="#444" letter-spacing="0.0">30</text>
<text transform="translate(171.92,370.00) scale(1.0,1)" x="0.00" y="0" font-size="4.8" font-family='"Liberation Sans", sans-serif' text-anchor="middle" fill="#444" letter-spacing="0.0">35</text>
<text transform="translate(192.20,370.00) scale(1.0,1)" x="0.00" y="0" font-size="4.8" font-family='"Liberation Sans", sans-serif' text-anchor="middle" fill="#444" letter-spacing="0.0">40</text>
<text transform="translate(212.47,370.00) scale(1.0,1)" x="0.00" y="0" font-size="4.8" font-family='"Liberation Sans", sans-serif' text-anchor="middle" fill="#444" letter-spacing="0.0">45</text>
<text transform="translate(232.75,370.00) scale(1.0,1)" x="0.00" y="0" font-size="4.8" font-family='"Liberation Sans", sans-serif' text-anchor="middle" fill="#444" letter-spacing="0.0">50</text>
<text transform="translate(253.02,370.00) scale(1.0,1)" x="0.00" y="0" font-size="4.8" font-family='"Liberation Sans", sans-serif' text-anchor="middle" fill="#444" letter-spacing="0.0">55</text>
<line x1="289.50" y1="225.80" x2="289.50" y2="361.80" stroke="#444" stroke-width="1.3" />
<line x1="288.90" y1="361.30" x2="516.50" y2="361.30" stroke="#444" stroke-width="1.3" />
<path d="M289.10 361.00a0.7 0.7 0 1 0 1.4 0a0.7 0.7 0 1 0 -1.4 0M289.10 357.75a0.7 0.7 0 1 0 1.4 0a0.7 0.7 0 1 0 -1.4 0M289.10 354.49a0.7 0.7 0 1 0 1.4 0a0.7 0.7 0 1 0 -1.4 0M289.10 351.24a0.7 0.7 0 1 0 1.4 0a0.7 0.7 0 1 0 -1.4 0M289.10 347.98a0.7 0.7 0 1 0 1.4 0a0.7 0.7 0 1 0 -1.4 0M289.10 344.73a0.7 0.7 0 1 0 1.4 0a0.7 0.7 0 1 0 -1.4 0M289.10 341.47a0.7 0.7 0 1 0 1.4 0a0.7 0.7 0 1 0 -1.4 0M289.10 338.22a0.7 0.7 0 1 0 1.4 0a0.7 0.7 0 1 0 -1.4 0M289.10 334.96a0.7 0.7 0 1 0 1.4 0a0.7 0.7 0 1 0 -1.4 0M289.10 331.70a0.7 0.7 0 1 0 1.4 0a0.7 0.7 0 1 0 -1.4 0M289.10 328.45a0.7 0.7 0 1 0 1.4 0a0.7 0.7 0 1 0 -1.4 0M289.10 325.19a0.7 0.7 0 1 0 1.4 0a0.7 0.7 0 1 0 -1.4 0M289.10 321.94a0.7 0.7 0 1 0 1.4 0a0.7 0.7 0 1 0 -1.4 0M289.10 318.69a0.7 0.7 0 1 0 1.4 0a0.7 0.7 0 1 0 -1.4 0M289.10 315.43a0.7 0.7 0 1 0 1.4 0a0.7 0.7 0 1 0 -1.4 0M289.10 312.18a0.7 0.7 0 1 0 1.4 0a0.7 0.7 0 1 0 -1.4 0M289.10 308.92a0.7 0.7 0 1 0 1.4 0a0.7 0.7 0 1 0 -1.4 0M289.10 305.66a0.7 0.7 0 1 0 1.4 0a0.7 0.7 0 1 0 -1.4 0M289.10 302.41a0.7 0.7 0 1 0 1.4 0a0.7 0.7 0 1 0 -1.4 0M289.10 299.15a0.7 0.7 0 1 0 1.4 0a0.7 0.7 0 1 0 -1.4 0M289.10 295.90a0.7 0.7 0 1 0 1.4 0a0.7 0.7 0 1 0 -1.4 0M289.10 292.64a0.7 0.7 0 1 0 1.4 0a0.7 0.7 0 1 0 -1.4 0M289.10 289.39a0.7 0.7 0 1 0 1.4 0a0.7 0.7 0 1 0 -1.4 0M289.10 286.13a0.7 0.7 0 1 0 1.4 0a0.7 0.7 0 1 0 -1.4 0M289.10 282.88a0.7 0.7 0 1 0 1.4 0a0.7 0.7 0 1 0 -1.4 0M289.10 279.62a0.7 0.7 0 1 0 1.4 0a0.7 0.7 0 1 0 -1.4 0M289.10 276.37a0.7 0.7 0 1 0 1.4 0a0.7 0.7 0 1 0 -1.4 0M289.10 273.11a0.7 0.7 0 1 0 1.4 0a0.7 0.7 0 1 0 -1.4 0M289.10 269.86a0.7 0.7 0 1 0 1.4 0a0.7 0.7 0 1 0 -1.4 0M289.10 266.60a0.7 0.7 0 1 0 1.4 0a0.7 0.7 0 1 0 -1.4 0M289.10 263.35a0.7 0.7 0 1 0 1.4 0a0.7 0.7 0 1 0 -1.4 0M289.10 260.09a0.7 0.7 0 1 0 1.4 0a0.7 0.7 0 1 0 -1.4 0M289.10 256.84a0.7 0.7 0 1 0 1.4 0a0.7 0.7 0 1 0 -1.4 0M289.10 253.58a0.7 0.7 0 1 0 1.4 0a0.7 0.7 0 1 0 -1.4 0M289.10 250.33a0.7 0.7 0 1 0 1.4 0a0.7 0.7 0 1 0 -1.4 0M289.10 247.07a0.7 0.7 0 1 0 1.4 0a0.7 0.7 0 1 0 -1.4 0M289.10 243.82a0.7 0.7 0 1 0 1.4 0a0.7 0.7 0 1 0 -1.4 0M289.10 240.56a0.7 0.7 0 1 0 1.4 0a0.7 0.7 0 1 0 -1.4 0M289.10 237.31a0.7 0.7 0 1 0 1.4 0a0.7 0.7 0 1 0 -1.4 0M289.10 234.05a0.7 0.7 0 1 0 1.4 0a0.7 0.7 0 1 0 -1.4 0M289.10 230.80a0.7 0.7 0 1 0 1.4 0a0.7 0.7 0 1 0 -1.4 0M289.00 361.10a0.7 0.7 0 1 0 1.4 0a0.7 0.7 0 1 0 -1.4 0M293.05 361.10a0.7 0.7 0 1 0 1.4 0a0.7 0.7 0 1 0 -1.4 0M297.10 361.10a0.7 0.7 0 1 0 1.4 0a0.7 0.7 0 1 0 -1.4 0M301.15 361.10a0.7 0.7 0 1 0 1.4 0a0.7 0.7 0 1 0 -1.4 0M305.20 361.10a0.7 0.7 0 1 0 1.4 0a0.7 0.7 0 1 0 -1.4 0M309.25 361.10a0.7 0.7 0 1 0 1.4 0a0.7 0.7 0 1 0 -1.4 0M313.30 361.10a0.7 0.7 0 1 0 1.4 0a0.7 0.7 0 1 0 -1.4 0M317.35 361.10a0.7 0.7 0 1 0 1.4 0a0.7 0.7 0 1 0 -1.4 0M321.40 361.10a0.7 0.7 0 1 0 1.4 0a0.7 0.7 0 1 0 -1.4 0M325.45 361.10a0.7 0.7 0 1 0 1.4 0a0.7 0.7 0 1 0 -1.4 0M329.50 361.10a0.7 0.7 0 1 0 1.4 0a0.7 0.7 0 1 0 -1.4 0M333.55 361.10a0.7 0.7 0 1 0 1.4 0a0.7 0.7 0 1 0 -1.4 0M337.60 361.10a0.7 0.7 0 1 0 1.4 0a0.7 0.7 0 1 0 -1.4 0M341.65 361.10a0.7 0.7 0 1 0 1.4 0a0.7 0.7 0 1 0 -1.4 0M345.70 361.10a0.7 0.7 0 1 0 1.4 0a0.7 0.7 0 1 0 -1.4 0M349.75 361.10a0.7 0.7 0 1 0 1.4 0a0.7 0.7 0 1 0 -1.4 0M353.80 361.10a0.7 0.7 0 1 0 1.4 0a0.7 0.7 0 1 0 -1.4 0M357.85 361.10a0.7 0.7 0 1 0 1.4 0a0.7 0.7 0 1 0 -1.4 0M361.90 361.10a0.7 0.7 0 1 0 1.4 0a0.7 0.7 0 1 0 -1.4 0M365.95 361.10a0.7 0.7 0 1 0 1.4 0a0.7 0.7 0 1 0 -1.4 0M370.00 361.10a0.7 0.7 0 1 0 1.4 0a0.7 0.7 0 1 0 -1.4 0M374.05 361.10a0.7 0.7 0 1 0 1.4 0a0.7 0.7 0 1 0 -1.4 0M378.10 361.10a0.7 0.7 0 1 0 1.4 0a0.7 0.7 0 1 0 -1.4 0M382.15 361.10a0.7 0.7 0 1 0 1.4 0a0.7 0.7 0 1 0 -1.4 0M386.20 361.10a0.7 0.7 0 1 0 1.4 0a0.7 0.7 0 1 0 -1.4 0M390.25 361.10a0.7 0.7 0 1 0 1.4 0a0.7 0.7 0 1 0 -1.4 0M394.30 361.10a0.7 0.7 0 1 0 1.4 0a0.7 0.7 0 1 0 -1.4 0M398.35 361.10a0.7 0.7 0 1 0 1.4 0a0.7 0.7 0 1 0 -1.4 0M402.40 361.10a0.7 0.7 0 1 0 1.4 0a0.7 0.7 0 1 0 -1.4 0M406.45 361.10a0.7 0.7 0 1 0 1.4 0a0.7 0.7 0 1 0 -1.4 0M410.50 361.10a0.7 0.7 0 1 0 1.4 0a0.7 0.7 0 1 0 -1.4 0M414.55 361.10a0.7 0.7 0 1 0 1.4 0a0.7 0.7 0 1 0 -1.4 0M418.60 361.10a0.7 0.7 0 1 0 1.4 0a0.7 0.7 0 1 0 -1.4 0M422.65 361.10a0.7 0.7 0 1 0 1.4 0a0.7 0.7 0 1 0 -1.4 0M426.70 361.10a0.7 0.7 0 1 0 1.4 0a0.7 0.7 0 1 0 -1.4 0M430.75 361.10a0.7 0.7 0 1 0 1.4 0a0.7 0.7 0 1 0 -1.4 0M434.80 361.10a0.7 0.7 0 1 0 1.4 0a0.7 0.7 0 1 0 -1.4 0M438.85 361.10a0.7 0.7 0 1 0 1.4 0a0.7 0.7 0 1 0 -1.4 0M442.90 361.10a0.7 0.7 0 1 0 1.4 0a0.7 0.7 0 1 0 -1.4 0M446.95 361.10a0.7 0.7 0 1 0 1.4 0a0.7 0.7 0 1 0 -1.4 0M451.00 361.10a0.7 0.7 0 1 0 1.4 0a0.7 0.7 0 1 0 -1.4 0M455.05 361.10a0.7 0.7 0 1 0 1.4 0a0.7 0.7 0 1 0 -1.4 0M459.10 361.10a0.7 0.7 0 1 0 1.4 0a0.7 0.7 0 1 0 -1.4 0M463.15 361.10a0.7 0.7 0 1 0 1.4 0a0.7 0.7 0 1 0 -1.4 0M467.20 361.10a0.7 0.7 0 1 0 1.4 0a0.7 0.7 0 1 0 -1.4 0M471.25 361.10a0.7 0.7 0 1 0 1.4 0a0.7 0.7 0 1 0 -1.4 0M475.30 361.10a0.7 0.7 0 1 0 1.4 0a0.7 0.7 0 1 0 -1.4 0M479.35 361.10a0.7 0.7 0 1 0 1.4 0a0.7 0.7 0 1 0 -1.4 0M483.40 361.10a0.7 0.7 0 1 0 1.4 0a0.7 0.7 0 1 0 -1.4 0M487.45 361.10a0.7 0.7 0 1 0 1.4 0a0.7 0.7 0 1 0 -1.4 0M491.50 361.10a0.7 0.7 0 1 0 1.4 0a0.7 0.7 0 1 0 -1.4 0M495.55 361.10a0.7 0.7 0 1 0 1.4 0a0.7 0.7 0 1 0 -1.4 0M499.60 361.10a0.7 0.7 0 1 0 1.4 0a0.7 0.7 0 1 0 -1.4 0M503.65 361.10a0.7 0.7 0 1 0 1.4 0a0.7 0.7 0 1 0 -1.4 0M507.70 361.10a0.7 0.7 0 1 0 1.4 0a0.7 0.7 0 1 0 -1.4 0M511.75 361.10a0.7 0.7 0 1 0 1.4 0a0.7 0.7 0 1 0 -1.4 0M515.80 361.10a0.7 0.7 0 1 0 1.4 0a0.7 0.7 0 1 0 -1.4 0" fill="#000"/>
<text x="284.50" y="362.06" font-size="4.6" font-family='"Liberation Sans", sans-serif' text-anchor="end" fill="#444" >0.0</text>
<text x="284.50" y="349.10" font-size="4.6" font-family='"Liberation Sans", sans-serif' text-anchor="end" fill="#444" >0.1</text>
<text x="284.50" y="336.14" font-size="4.6" font-family='"Liberation Sans", sans-serif' text-anchor="end" fill="#444" >0.2</text>
<text x="284.50" y="323.18" font-size="4.6" font-family='"Liberation Sans", sans-serif' text-anchor="end" fill="#444" >0.3</text>
<text x="284.50" y="310.22" font-size="4.6" font-family='"Liberation Sans", sans-serif' text-anchor="end" fill="#444" >0.4</text>
<text x="284.50" y="297.26" font-size="4.6" font-family='"Liberation Sans", sans-serif' text-anchor="end" fill="#444" >0.5</text>
<text x="284.50" y="284.30" font-size="4.6" font-family='"Liberation Sans", sans-serif' text-anchor="end" fill="#444" >0.6</text>
<text x="284.50" y="271.34" font-size="4.6" font-family='"Liberation Sans", sans-serif' text-anchor="end" fill="#444" >0.7</text>
<text x="284.50" y="258.38" font-size="4.6" font-family='"Liberation Sans", sans-serif' text-anchor="end" fill="#444" >0.8</text>
<text x="284.50" y="245.42" font-size="4.6" font-family='"Liberation Sans", sans-serif' text-anchor="end" fill="#444" >0.9</text>
<text x="284.50" y="232.46" font-size="4.6" font-family='"Liberation Sans", sans-serif' text-anchor="end" fill="#444" >1.0</text>
<text transform="translate(293.75,370.00) scale(1.0,1)" x="0.00" y="0" font-size="4.8" font-family='"Liberation Sans", sans-serif' text-anchor="middle" fill="#444" letter-spacing="0.0">0</text>
<text transform="translate(314.00,370.00) scale(1.0,1)" x="0.00" y="0" font-size="4.8" font-family='"Liberation Sans", sans-serif' text-anchor="middle" fill="#444" letter-spacing="0.0">5</text>
<text transform="translate(334.25,370.00) scale(1.0,1)" x="0.00" y="0" font-size="4.8" font-family='"Liberation Sans", sans-serif' text-anchor="middle" fill="#444" letter-spacing="0.0">10</text>
<text transform="translate(354.50,370.00) scale(1.0,1)" x="0.00" y="0" font-size="4.8" font-family='"Liberation Sans", sans-serif' text-anchor="middle" fill="#444" letter-spacing="0.0">15</text>
<text transform="translate(374.75,370.00) scale(1.0,1)" x="0.00" y="0" font-size="4.8" font-family='"Liberation Sans", sans-serif' text-anchor="middle" fill="#444" letter-spacing="0.0">20</text>
<text transform="translate(395.00,370.00) scale(1.0,1)" x="0.00" y="0" font-size="4.8" font-family='"Liberation Sans", sans-serif' text-anchor="middle" fill="#444" letter-spacing="0.0">25</text>
<text transform="translate(415.25,370.00) scale(1.0,1)" x="0.00" y="0" font-size="4.8" font-family='"Liberation Sans", sans-serif' text-anchor="middle" fill="#444" letter-spacing="0.0">30</text>
<text transform="translate(435.50,370.00) scale(1.0,1)" x="0.00" y="0" font-size="4.8" font-family='"Liberation Sans", sans-serif' text-anchor="middle" fill="#444" letter-spacing="0.0">35</text>
<text transform="translate(455.75,370.00) scale(1.0,1)" x="0.00" y="0" font-size="4.8" font-family='"Liberation Sans", sans-serif' text-anchor="middle" fill="#444" letter-spacing="0.0">40</text>
<text transform="translate(476.00,370.00) scale(1.0,1)" x="0.00" y="0" font-size="4.8" font-family='"Liberation Sans", sans-serif' text-anchor="middle" fill="#444" letter-spacing="0.0">45</text>
<text transform="translate(496.25,370.00) scale(1.0,1)" x="0.00" y="0" font-size="4.8" font-family='"Liberation Sans", sans-serif' text-anchor="middle" fill="#444" letter-spacing="0.0">50</text>
<text transform="translate(516.50,370.00) scale(1.0,1)" x="0.00" y="0" font-size="4.8" font-family='"Liberation Sans", sans-serif' text-anchor="middle" fill="#444" letter-spacing="0.0">55</text>
<text x="12.00" y="19.60" font-size="19.5" font-family='"Liberation Sans", sans-serif' text-anchor="start" fill="#000" font-weight="bold">A</text>
<text x="276.70" y="20.10" font-size="19.5" font-family='"Liberation Sans", sans-serif' text-anchor="start" fill="#000" font-weight="bold">B</text>
<text x="12.80" y="215.00" font-size="19.5" font-family='"Liberation Sans", sans-serif' text-anchor="start" fill="#000" font-weight="bold">C</text>
<text x="276.20" y="215.80" font-size="19.5" font-family='"Liberation Sans", sans-serif' text-anchor="start" fill="#000" font-weight="bold">D</text>
<text transform="translate(4.00,104.70) rotate(-90)" x="0" y="2.09" font-size="5.8" font-family='"Liberation Sans", sans-serif' text-anchor="middle" fill="#000" stroke="#000" stroke-width="0.1">Cumulative Proportion Surviving</text>
<text transform="translate(270.00,106.40) rotate(-90)" x="0" y="2.26" font-size="6.27" font-family='"Liberation Sans", sans-serif' text-anchor="middle" fill="#000" stroke="#000" stroke-width="0.25">Cumulative Proportion Surviving</text>
<text transform="translate(6.20,302.30) rotate(-90)" x="0" y="2.34" font-size="6.5" font-family='"Liberation Sans", sans-serif' text-anchor="middle" fill="#000" stroke="#000" stroke-width="0.25">Cumulative Proportion Surviving</text>
<text transform="translate(270.50,302.30) rotate(-90)" x="0" y="2.30" font-size="6.4" font-family='"Liberation Sans", sans-serif' text-anchor="middle" fill="#000" stroke="#000" stroke-width="0.25">Cumulative Proportion Surviving</text>
<text x="141.00" y="177.19" font-size="6.07" font-family='"Liberation Sans", sans-serif' text-anchor="middle" fill="#222" >Survival Time (Months)</text>
<text x="393.80" y="184.54" font-size="4.82" font-family='"Liberation Sans", sans-serif' text-anchor="middle" fill="#222" >Survival Time (Months)</text>
<text x="130.80" y="383.21" font-size="4.75" font-family='"Liberation Sans", sans-serif' text-anchor="middle" fill="#222" >Survival Time (months)</text>
<text x="394.50" y="382.75" font-size="4.86" font-family='"Liberation Sans", sans-serif' text-anchor="middle" fill="#222" >Survival Time (Months)</text>
<text x="102.00" y="15.80" font-size="6.3" font-family='"Liberation Sans", sans-serif' text-anchor="start" fill="#3a3a3a" >Total DFS Survival</text>
<path d="M111.40 23.60L112.90 22.25L114.40 23.60L112.90 24.95Z" fill="#000"/>
<path d="M110.80 23.60H115.00M112.90 21.65V25.55" stroke="#000" stroke-width="0.4"/>
<text x="120.00" y="25.20" font-size="6.0" font-family='"Liberation Sans", sans-serif' text-anchor="start" fill="#3a3a3a" >Censored</text>
<line x1="101.30" y1="39.10" x2="126.40" y2="39.10" stroke="#000" stroke-width="1.0" />
<line x1="129.80" y1="39.10" x2="135.10" y2="39.10" stroke="#000" stroke-width="1.0" />
<line x1="138.50" y1="39.10" x2="143.50" y2="39.10" stroke="#000" stroke-width="1.0" />
<line x1="146.90" y1="39.10" x2="206.00" y2="39.10" stroke="#000" stroke-width="1.0" />
<path d="M99.90 39.10L101.30 37.84L102.70 39.10L101.30 40.36Z" fill="#000"/>
<path d="M99.34 39.10H103.26M101.30 37.28V40.92" stroke="#000" stroke-width="0.4"/>
<line x1="128.10" y1="36.30" x2="128.10" y2="41.90" stroke="#000" stroke-width="0.45" />
<path d="M128.1 36.1L129.35 37.300000000000004L128.1 38.5L126.85 37.300000000000004Z" fill="#000"/>
<path d="M128.1 39.7L129.35 40.9L128.1 42.1L126.85 40.9Z" fill="#000"/>
<line x1="136.80" y1="36.30" x2="136.80" y2="41.90" stroke="#000" stroke-width="0.45" />
<path d="M136.8 36.1L138.05 37.300000000000004L136.8 38.5L135.55 37.300000000000004Z" fill="#000"/>
<path d="M136.8 39.7L138.05 40.9L136.8 42.1L135.55 40.9Z" fill="#000"/>
<line x1="145.20" y1="36.30" x2="145.20" y2="41.90" stroke="#000" stroke-width="0.45" />
<path d="M145.2 36.1L146.45 37.300000000000004L145.2 38.5L143.95 37.300000000000004Z" fill="#000"/>
<path d="M145.2 39.7L146.45 40.9L145.2 42.1L143.95 40.9Z" fill="#000"/>
<path d="M204.60 39.10L206.00 37.84L207.40 39.10L206.00 40.36Z" fill="#000"/>
<path d="M204.04 39.10H207.96M206.00 37.28V40.92" stroke="#000" stroke-width="0.4"/>
<line x1="117.30" y1="73.80" x2="128.30" y2="73.80" stroke="#222" stroke-width="0.8" stroke-dasharray="2.2 2.2"/>
<text x="133.50" y="75.70" font-size="6.1" font-family='"Liberation Sans", sans-serif' text-anchor="start" fill="#3a3a3a" >Total Disease-free Survival</text>
<text x="150.40" y="84.80" font-size="6.1" font-family='"Liberation Sans", sans-serif' text-anchor="start" fill="#3a3a3a" >n= 8</text>
<text x="358.80" y="5.30" font-size="4.86" font-family='"Liberation Sans", sans-serif' text-anchor="start" fill="#222" >Total DFS and Overall Survival</text>
<circle cx="367.00" cy="16.00" r="1.5" fill="#fff" stroke="#000" stroke-width="0.7"/>
<text x="374.00" y="17.00" font-size="4.7" font-family='"Liberation Sans", sans-serif' text-anchor="start" fill="#222" >Complete</text>
<path d="M403.80 15.50L405.00 14.42L406.20 15.50L405.00 16.58Z" fill="#000"/>
<path d="M403.32 15.50H406.68M405.00 13.94V17.06" stroke="#000" stroke-width="0.4"/>
<text x="411.00" y="17.00" font-size="5.0" font-family='"Liberation Sans", sans-serif' text-anchor="start" fill="#222" >Censored</text>
<path d="M310.00 38.50 L314.30 38.50 L314.30 54.30 L326.40 54.30 L326.40 65.20 L330.50 65.20 L330.50 74.00 L334.30 74.00 L334.30 81.60 L346.50 81.60 L346.50 86.20 L351.00 86.20 L351.00 91.40 L354.60 91.40 L354.60 96.10 L363.40 96.10 L363.40 102.50 L387.30 102.50 L387.30 110.00 L488.90 110.00" fill="none" stroke="#555" stroke-width="0.8"/>
<path d="M318.50 39.10 L318.50 48.30 L334.40 48.30 L334.40 57.30 L338.50 57.30 L338.50 71.00 L345.10 71.00 L345.10 76.10 L358.80 76.10 L358.80 87.80 L391.50 87.80 L391.50 96.10 L488.90 96.10" fill="none" stroke="#000" stroke-width="1.1"/>
<circle cx="314.30" cy="42.60" r="1.4" fill="#fff" stroke="#000" stroke-width="0.7"/>
<circle cx="314.30" cy="46.10" r="1.4" fill="#fff" stroke="#000" stroke-width="0.7"/>
<circle cx="314.30" cy="49.60" r="1.4" fill="#fff" stroke="#000" stroke-width="0.7"/>
<circle cx="314.30" cy="54.30" r="1.4" fill="#fff" stroke="#000" stroke-width="0.7"/>
<circle cx="326.40" cy="58.80" r="1.4" fill="#fff" stroke="#000" stroke-width="0.7"/>
<circle cx="326.40" cy="61.70" r="1.4" fill="#fff" stroke="#000" stroke-width="0.7"/>
<circle cx="327.00" cy="65.20" r="1.4" fill="#fff" stroke="#000" stroke-width="0.7"/>
<circle cx="330.50" cy="69.90" r="1.4" fill="#fff" stroke="#000" stroke-width="0.7"/>
<circle cx="331.10" cy="74.00" r="1.4" fill="#fff" stroke="#000" stroke-width="0.7"/>
<circle cx="334.30" cy="77.50" r="1.4" fill="#fff" stroke="#000" stroke-width="0.7"/>
<circle cx="334.30" cy="81.60" r="1.4" fill="#fff" stroke="#000" stroke-width="0.7"/>
<circle cx="346.50" cy="86.20" r="1.4" fill="#fff" stroke="#000" stroke-width="0.7"/>
<circle cx="351.00" cy="91.40" r="1.4" fill="#fff" stroke="#000" stroke-width="0.7"/>
<circle cx="354.60" cy="96.10" r="1.4" fill="#fff" stroke="#000" stroke-width="0.7"/>
<circle cx="363.40" cy="102.50" r="1.4" fill="#fff" stroke="#000" stroke-width="0.7"/>
<circle cx="387.30" cy="110.00" r="1.4" fill="#fff" stroke="#000" stroke-width="0.7"/>
<path d="M338.70 79.60V83.60" stroke="#111" stroke-width="0.6"/>
<path d="M338.70 80.10L339.80 81.60L338.70 83.10L337.60 81.60Z" fill="#111"/>
<path d="M342.80 79.60V83.60" stroke="#111" stroke-width="0.6"/>
<path d="M342.80 80.10L343.90 81.60L342.80 83.10L341.70 81.60Z" fill="#111"/>
<path d="M358.70 94.10V98.10" stroke="#111" stroke-width="0.6"/>
<path d="M358.70 94.60L359.80 96.10L358.70 97.60L357.60 96.10Z" fill="#111"/>
<path d="M375.10 100.50V104.50" stroke="#111" stroke-width="0.6"/>
<path d="M375.10 101.00L376.20 102.50L375.10 104.00L374.00 102.50Z" fill="#111"/>
<path d="M399.60 108.00V112.00" stroke="#111" stroke-width="0.6"/>
<path d="M399.60 108.50L400.70 110.00L399.60 111.50L398.50 110.00Z" fill="#111"/>
<path d="M407.80 108.00V112.00" stroke="#111" stroke-width="0.6"/>
<path d="M407.80 108.50L408.90 110.00L407.80 111.50L406.70 110.00Z" fill="#111"/>
<path d="M424.20 108.00V112.00" stroke="#111" stroke-width="0.6"/>
<path d="M424.20 108.50L425.30 110.00L424.20 111.50L423.10 110.00Z" fill="#111"/>
<path d="M436.50 108.00V112.00" stroke="#111" stroke-width="0.6"/>
<path d="M436.50 108.50L437.60 110.00L436.50 111.50L435.40 110.00Z" fill="#111"/>
<path d="M468.20 108.00V112.00" stroke="#111" stroke-width="0.6"/>
<path d="M468.20 108.50L469.30 110.00L468.20 111.50L467.10 110.00Z" fill="#111"/>
<path d="M476.50 108.00V112.00" stroke="#111" stroke-width="0.6"/>
<path d="M476.50 108.50L477.60 110.00L476.50 111.50L475.40 110.00Z" fill="#111"/>
<path d="M488.90 108.00V112.00" stroke="#111" stroke-width="0.6"/>
<path d="M488.90 108.50L490.00 110.00L488.90 111.50L487.80 110.00Z" fill="#111"/>
<circle cx="310.00" cy="38.50" r="1.4" fill="#fff" stroke="#000" stroke-width="0.7"/>
<circle cx="318.50" cy="39.10" r="1.4" fill="#fff" stroke="#000" stroke-width="0.7"/>
<circle cx="318.50" cy="43.00" r="1.4" fill="#fff" stroke="#000" stroke-width="0.7"/>
<circle cx="318.50" cy="46.10" r="1.4" fill="#fff" stroke="#000" stroke-width="0.7"/>
<circle cx="318.50" cy="48.30" r="1.4" fill="#fff" stroke="#000" stroke-width="0.7"/>
<circle cx="334.40" cy="52.30" r="1.4" fill="#fff" stroke="#000" stroke-width="0.7"/>
<circle cx="334.40" cy="57.30" r="1.4" fill="#fff" stroke="#000" stroke-width="0.7"/>
<circle cx="338.50" cy="61.70" r="1.4" fill="#fff" stroke="#000" stroke-width="0.7"/>
<circle cx="338.50" cy="64.60" r="1.4" fill="#fff" stroke="#000" stroke-width="0.7"/>
<circle cx="338.50" cy="67.50" r="1.4" fill="#fff" stroke="#000" stroke-width="0.7"/>
<circle cx="338.50" cy="71.00" r="1.4" fill="#fff" stroke="#000" stroke-width="0.7"/>
<circle cx="346.60" cy="76.10" r="1.4" fill="#fff" stroke="#000" stroke-width="0.7"/>
<circle cx="358.80" cy="82.00" r="1.4" fill="#fff" stroke="#000" stroke-width="0.7"/>
<circle cx="358.80" cy="87.80" r="1.4" fill="#fff" stroke="#000" stroke-width="0.7"/>
<circle cx="391.50" cy="96.10" r="1.4" fill="#fff" stroke="#000" stroke-width="0.7"/>
<path d="M343.20 69.00V73.00" stroke="#000" stroke-width="0.6"/>
<path d="M343.20 69.50L344.30 71.00L343.20 72.50L342.10 71.00Z" fill="#000"/>
<path d="M351.10 74.10V78.10" stroke="#000" stroke-width="0.6"/>
<path d="M351.10 74.60L352.20 76.10L351.10 77.60L350.00 76.10Z" fill="#000"/>
<path d="M363.40 85.80V89.80" stroke="#000" stroke-width="0.6"/>
<path d="M363.40 86.30L364.50 87.80L363.40 89.30L362.30 87.80Z" fill="#000"/>
<path d="M375.10 85.80V89.80" stroke="#000" stroke-width="0.6"/>
<path d="M375.10 86.30L376.20 87.80L375.10 89.30L374.00 87.80Z" fill="#000"/>
<path d="M395.50 94.10V98.10" stroke="#000" stroke-width="0.6"/>
<path d="M395.50 94.60L396.60 96.10L395.50 97.60L394.40 96.10Z" fill="#000"/>
<path d="M399.60 94.10V98.10" stroke="#000" stroke-width="0.6"/>
<path d="M399.60 94.60L400.70 96.10L399.60 97.60L398.50 96.10Z" fill="#000"/>
<path d="M407.80 94.10V98.10" stroke="#000" stroke-width="0.6"/>
<path d="M407.80 94.60L408.90 96.10L407.80 97.60L406.70 96.10Z" fill="#000"/>
<path d="M424.20 94.10V98.10" stroke="#000" stroke-width="0.6"/>
<path d="M424.20 94.60L425.30 96.10L424.20 97.60L423.10 96.10Z" fill="#000"/>
<path d="M436.50 94.10V98.10" stroke="#000" stroke-width="0.6"/>
<path d="M436.50 94.60L437.60 96.10L436.50 97.60L435.40 96.10Z" fill="#000"/>
<path d="M468.20 94.10V98.10" stroke="#000" stroke-width="0.6"/>
<path d="M468.20 94.60L469.30 96.10L468.20 97.60L467.10 96.10Z" fill="#000"/>
<path d="M476.50 94.10V98.10" stroke="#000" stroke-width="0.6"/>
<path d="M476.50 94.60L477.60 96.10L476.50 97.60L475.40 96.10Z" fill="#000"/>
<path d="M488.90 94.10V98.10" stroke="#000" stroke-width="0.6"/>
<path d="M488.90 94.60L490.00 96.10L488.90 97.60L487.80 96.10Z" fill="#000"/>
<text x="411.20" y="76.95" font-size="7.3" font-family='"Liberation Serif", serif' text-anchor="start" fill="#222"  stroke="#222" stroke-width="0.12">Total Overall Survival</text>
<text x="436.00" y="90.75" font-size="7.3" font-family='"Liberation Serif", serif' text-anchor="start" fill="#222"  stroke="#222" stroke-width="0.12">n=33</text>
<text x="405.30" y="129.95" font-size="7.42" font-family='"Liberation Serif", serif' text-anchor="start" fill="#222"  stroke="#222" stroke-width="0.12">Total Disease-free Survival</text>
<text x="438.00" y="143.45" font-size="7.3" font-family='"Liberation Serif", serif' text-anchor="start" fill="#222"  stroke="#222" stroke-width="0.12">n=33</text>
<text x="92.80" y="202.20" font-size="4.8" font-family='"Liberation Sans", sans-serif' text-anchor="start" fill="#222" >DFS comparison grouped by WBC</text>
<circle cx="104.90" cy="212.30" r="1.5" fill="#fff" stroke="#000" stroke-width="0.7"/>
<text x="111.00" y="213.80" font-size="4.7" font-family='"Liberation Sans", sans-serif' text-anchor="start" fill="#222" >Complete</text>
<path d="M140.90 212.00L142.10 210.92L143.30 212.00L142.10 213.08Z" fill="#000"/>
<path d="M140.42 212.00H143.78M142.10 210.44V213.56" stroke="#000" stroke-width="0.4"/>
<text x="147.60" y="213.80" font-size="4.9" font-family='"Liberation Sans", sans-serif' text-anchor="start" fill="#222" >Censored</text>
<path d="M50.20 247.80 L50.20 281.00 L62.80 281.00 L62.80 297.00 L66.60 297.00 L66.60 329.40 L95.80 329.40" fill="none" stroke="#555" stroke-width="0.8"/>
<circle cx="50.20" cy="247.80" r="1.4" fill="#fff" stroke="#000" stroke-width="0.7"/>
<circle cx="50.20" cy="264.40" r="1.4" fill="#fff" stroke="#000" stroke-width="0.7"/>
<circle cx="50.20" cy="281.00" r="1.4" fill="#fff" stroke="#000" stroke-width="0.7"/>
<circle cx="62.80" cy="297.00" r="1.4" fill="#fff" stroke="#000" stroke-width="0.7"/>
<circle cx="66.60" cy="313.50" r="1.4" fill="#fff" stroke="#000" stroke-width="0.7"/>
<circle cx="66.60" cy="329.40" r="1.4" fill="#fff" stroke="#000" stroke-width="0.7"/>
<path d="M79.40 327.40V331.40" stroke="#111" stroke-width="0.6"/>
<path d="M79.40 327.90L80.50 329.40L79.40 330.90L78.30 329.40Z" fill="#111"/>
<path d="M95.80 327.40V331.40" stroke="#111" stroke-width="0.6"/>
<path d="M95.80 327.90L96.90 329.40L95.80 330.90L94.70 329.40Z" fill="#111"/>
<path d="M46.50 236.90 L50.20 236.90 L50.20 242.00 L62.80 242.00 L62.80 253.10 L71.00 253.10 L71.00 262.80 L83.30 262.80 L83.30 268.80 L87.30 268.80 L87.30 275.20 L91.30 275.20 L91.30 281.60 L99.50 281.60 L99.50 288.90 L123.70 288.90 L123.70 298.20 L226.20 298.20" fill="none" stroke="#000" stroke-width="1.1"/>
<circle cx="46.50" cy="236.90" r="1.4" fill="#fff" stroke="#000" stroke-width="0.7"/>
<circle cx="50.20" cy="242.00" r="1.4" fill="#fff" stroke="#000" stroke-width="0.7"/>
<circle cx="62.80" cy="247.80" r="1.4" fill="#fff" stroke="#000" stroke-width="0.7"/>
<circle cx="62.80" cy="253.10" r="1.4" fill="#fff" stroke="#000" stroke-width="0.7"/>
<circle cx="71.00" cy="258.30" r="1.4" fill="#fff" stroke="#000" stroke-width="0.7"/>
<circle cx="71.00" cy="262.80" r="1.4" fill="#fff" stroke="#000" stroke-width="0.7"/>
<circle cx="83.30" cy="268.80" r="1.4" fill="#fff" stroke="#000" stroke-width="0.7"/>
<circle cx="87.30" cy="275.20" r="1.4" fill="#fff" stroke="#000" stroke-width="0.7"/>
<circle cx="91.30" cy="281.60" r="1.4" fill="#fff" stroke="#000" stroke-width="0.7"/>
<circle cx="99.50" cy="288.90" r="1.4" fill="#fff" stroke="#000" stroke-width="0.7"/>
<circle cx="123.70" cy="298.20" r="1.4" fill="#fff" stroke="#000" stroke-width="0.7"/>
<path d="M75.40 260.80V264.80" stroke="#000" stroke-width="0.6"/>
<path d="M75.40 261.30L76.50 262.80L75.40 264.30L74.30 262.80Z" fill="#000"/>
<path d="M79.20 260.80V264.80" stroke="#000" stroke-width="0.6"/>
<path d="M79.20 261.30L80.30 262.80L79.20 264.30L78.10 262.80Z" fill="#000"/>
<path d="M95.20 279.60V283.60" stroke="#000" stroke-width="0.6"/>
<path d="M95.20 280.10L96.30 281.60L95.20 283.10L94.10 281.60Z" fill="#000"/>
<path d="M111.80 286.90V290.90" stroke="#000" stroke-width="0.6"/>
<path d="M111.80 287.40L112.90 288.90L111.80 290.40L110.70 288.90Z" fill="#000"/>
<path d="M136.20 296.20V300.20" stroke="#000" stroke-width="0.6"/>
<path d="M136.20 296.70L137.30 298.20L136.20 299.70L135.10 298.20Z" fill="#000"/>
<path d="M144.20 296.20V300.20" stroke="#000" stroke-width="0.6"/>
<path d="M144.20 296.70L145.30 298.20L144.20 299.70L143.10 298.20Z" fill="#000"/>
<path d="M160.40 296.20V300.20" stroke="#000" stroke-width="0.6"/>
<path d="M160.40 296.70L161.50 298.20L160.40 299.70L159.30 298.20Z" fill="#000"/>
<path d="M173.10 296.20V300.20" stroke="#000" stroke-width="0.6"/>
<path d="M173.10 296.70L174.20 298.20L173.10 299.70L172.00 298.20Z" fill="#000"/>
<path d="M205.40 296.20V300.20" stroke="#000" stroke-width="0.6"/>
<path d="M205.40 296.70L206.50 298.20L205.40 299.70L204.30 298.20Z" fill="#000"/>
<path d="M213.50 296.20V300.20" stroke="#000" stroke-width="0.6"/>
<path d="M213.50 296.70L214.60 298.20L213.50 299.70L212.40 298.20Z" fill="#000"/>
<path d="M226.20 296.20V300.20" stroke="#000" stroke-width="0.6"/>
<path d="M226.20 296.70L227.30 298.20L226.20 299.70L225.10 298.20Z" fill="#000"/>
<text x="139.60" y="291.45" font-size="7.3" font-family='"Liberation Serif", serif' text-anchor="start" fill="#222"  stroke="#222" stroke-width="0.12">WBC=&lt;10x10<tspan font-size="4.5" dy="-2.5">9</tspan><tspan dy="2.5">/L, n=25</tspan></text>
<text x="179.80" y="321.85" font-size="7.2" font-family='"Liberation Serif", serif' text-anchor="start" fill="#222"  stroke="#222" stroke-width="0.12">P=.0383</text>
<text x="116.00" y="333.85" font-size="7.3" font-family='"Liberation Serif", serif' text-anchor="start" fill="#222"  stroke="#222" stroke-width="0.12">WBC&gt;10x10<tspan font-size="4.5" dy="-2.5">9</tspan><tspan dy="2.5">/L, n=8</tspan></text>
<text x="331.10" y="201.90" font-size="4.92" font-family='"Liberation Sans", sans-serif' text-anchor="start" fill="#222" >DFS Comparison grouped by Arsenic/Arsenic-Chemo</text>
<circle cx="367.70" cy="212.70" r="1.5" fill="#fff" stroke="#000" stroke-width="0.7"/>
<text x="373.80" y="213.00" font-size="4.7" font-family='"Liberation Sans", sans-serif' text-anchor="start" fill="#222" >Complete</text>
<path d="M404.20 212.70L405.40 211.62L406.60 212.70L405.40 213.78Z" fill="#000"/>
<path d="M403.72 212.70H407.08M405.40 211.14V214.26" stroke="#000" stroke-width="0.4"/>
<text x="410.80" y="213.00" font-size="5.0" font-family='"Liberation Sans", sans-serif' text-anchor="start" fill="#222" >Censored</text>
<path d="M314.30 243.30 L387.20 243.30 L387.20 267.10 L468.50 267.10" fill="none" stroke="#555" stroke-width="0.8"/>
<circle cx="314.30" cy="243.30" r="1.4" fill="#fff" stroke="#000" stroke-width="0.7"/>
<circle cx="387.20" cy="267.10" r="1.4" fill="#fff" stroke="#000" stroke-width="0.7"/>
<path d="M338.70 241.30V245.30" stroke="#111" stroke-width="0.6"/>
<path d="M338.70 241.80L339.80 243.30L338.70 244.80L337.60 243.30Z" fill="#111"/>
<path d="M342.50 241.30V245.30" stroke="#111" stroke-width="0.6"/>
<path d="M342.50 241.80L343.60 243.30L342.50 244.80L341.40 243.30Z" fill="#111"/>
<path d="M358.80 241.30V245.30" stroke="#111" stroke-width="0.6"/>
<path d="M358.80 241.80L359.90 243.30L358.80 244.80L357.70 243.30Z" fill="#111"/>
<path d="M375.30 241.30V245.30" stroke="#111" stroke-width="0.6"/>
<path d="M375.30 241.80L376.40 243.30L375.30 244.80L374.20 243.30Z" fill="#111"/>
<path d="M399.40 265.10V269.10" stroke="#111" stroke-width="0.6"/>
<path d="M399.40 265.60L400.50 267.10L399.40 268.60L398.30 267.10Z" fill="#111"/>
<path d="M424.10 265.10V269.10" stroke="#111" stroke-width="0.6"/>
<path d="M424.10 265.60L425.20 267.10L424.10 268.60L423.00 267.10Z" fill="#111"/>
<path d="M436.20 265.10V269.10" stroke="#111" stroke-width="0.6"/>
<path d="M436.20 265.60L437.30 267.10L436.20 268.60L435.10 267.10Z" fill="#111"/>
<path d="M468.50 265.10V269.10" stroke="#111" stroke-width="0.6"/>
<path d="M468.50 265.60L469.60 267.10L468.50 268.60L467.40 267.10Z" fill="#111"/>
<path d="M310.30 239.00 L314.30 239.00 L314.30 260.00 L326.60 260.00 L326.60 267.80 L330.20 267.80 L330.20 282.30 L334.60 282.30 L334.60 296.60 L346.60 296.60 L346.60 303.80 L351.00 303.80 L351.00 312.20 L354.80 312.20 L354.80 322.10 L489.00 322.10" fill="none" stroke="#000" stroke-width="1.1"/>
<circle cx="310.30" cy="239.00" r="1.4" fill="#fff" stroke="#000" stroke-width="0.7"/>
<circle cx="314.30" cy="245.80" r="1.4" fill="#fff" stroke="#000" stroke-width="0.7"/>
<circle cx="314.30" cy="253.00" r="1.4" fill="#fff" stroke="#000" stroke-width="0.7"/>
<circle cx="314.30" cy="260.00" r="1.4" fill="#fff" stroke="#000" stroke-width="0.7"/>
<circle cx="326.60" cy="267.80" r="1.4" fill="#fff" stroke="#000" stroke-width="0.7"/>
<circle cx="330.20" cy="275.20" r="1.4" fill="#fff" stroke="#000" stroke-width="0.7"/>
<circle cx="330.20" cy="282.30" r="1.4" fill="#fff" stroke="#000" stroke-width="0.7"/>
<circle cx="334.60" cy="289.30" r="1.4" fill="#fff" stroke="#000" stroke-width="0.7"/>
<circle cx="334.60" cy="296.60" r="1.4" fill="#fff" stroke="#000" stroke-width="0.7"/>
<circle cx="346.60" cy="303.80" r="1.4" fill="#fff" stroke="#000" stroke-width="0.7"/>
<circle cx="351.00" cy="312.20" r="1.4" fill="#fff" stroke="#000" stroke-width="0.7"/>
<circle cx="354.80" cy="322.10" r="1.4" fill="#fff" stroke="#000" stroke-width="0.7"/>
<path d="M363.30 320.10V324.10" stroke="#000" stroke-width="0.6"/>
<path d="M363.30 320.60L364.40 322.10L363.30 323.60L362.20 322.10Z" fill="#000"/>
<path d="M407.40 320.10V324.10" stroke="#000" stroke-width="0.6"/>
<path d="M407.40 320.60L408.50 322.10L407.40 323.60L406.30 322.10Z" fill="#000"/>
<path d="M476.20 320.10V324.10" stroke="#000" stroke-width="0.6"/>
<path d="M476.20 320.60L477.30 322.10L476.20 323.60L475.10 322.10Z" fill="#000"/>
<path d="M489.00 320.10V324.10" stroke="#000" stroke-width="0.6"/>
<path d="M489.00 320.60L490.10 322.10L489.00 323.60L487.90 322.10Z" fill="#000"/>
<text x="403.30" y="263.35" font-size="7.27" font-family='"Liberation Serif", serif' text-anchor="start" fill="#222"  stroke="#222" stroke-width="0.12">Arsenic-Chemo,n=11</text>
<text x="418.20" y="292.95" font-size="7.3" font-family='"Liberation Serif", serif' text-anchor="start" fill="#222"  stroke="#222" stroke-width="0.12">p=.01162</text>
<text x="399.00" y="319.25" font-size="7.38" font-family='"Liberation Serif", serif' text-anchor="start" fill="#222"  stroke="#222" stroke-width="0.12">Arsenic Only, n=18</text>
</svg>
</body></html>
